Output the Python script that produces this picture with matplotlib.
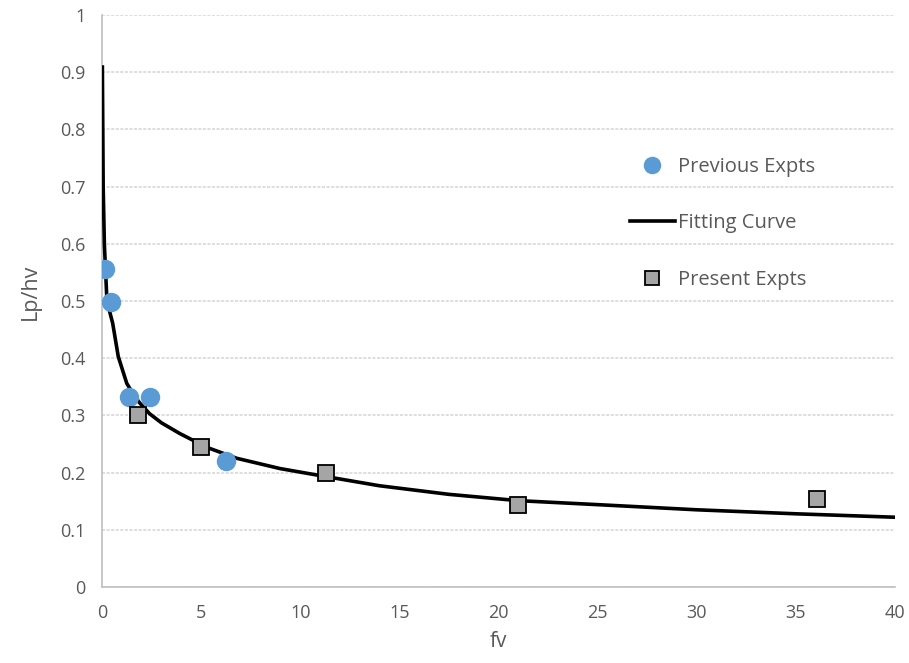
import matplotlib.pyplot as plt
from matplotlib.ticker import FuncFormatter, MultipleLocator

plt.rcParams['font.family'] = ['Open Sans', 'DejaVu Sans']

# previous experiments (blue circles)
prev_fv = [0.16, 0.46, 1.34, 2.40, 6.28]
prev_lp = [0.556, 0.499, 0.333, 0.333, 0.221]

# present experiments (grey squares)
pres_fv = [1.81, 4.97, 11.29, 21.0, 36.05]
pres_lp = [0.300, 0.245, 0.200, 0.144, 0.154]

# fitted curve
fit_fv = [0.02, 0.06, 0.12, 0.25, 0.54, 0.82, 1.25, 1.58, 1.9, 2.4, 3.0, 3.94, 5.3,
          6.8, 8.99, 11.3, 14.0, 17.5, 21.0, 25.0, 30.0, 35.0, 40.0]
fit_lp = [0.909, 0.700, 0.599, 0.500, 0.461, 0.403, 0.356, 0.337, 0.322, 0.303, 0.287, 0.268, 0.244,
          0.225, 0.207, 0.193, 0.177, 0.162, 0.151, 0.144, 0.135, 0.128, 0.122]

text_col = '#595959'

fig = plt.figure(figsize=(9.09, 6.63), dpi=100)
ax = fig.add_axes([0.1122, 0.1146, 0.8724, 0.8628])

ax.plot(prev_fv, prev_lp, 'o', color='#5b9bd5', markersize=14, markeredgewidth=0,
        label='Previous Expts', zorder=4)
ax.plot(fit_fv, fit_lp, '-', color='black', linewidth=2.6, label='Fitting Curve', zorder=3)
ax.plot(pres_fv, pres_lp, 's', color='#a5a5a5', markersize=11.5, markeredgecolor='black',
        markeredgewidth=1.3, label='Present Expts', zorder=4)

ax.set_xlim(0, 40)
ax.set_ylim(0, 1)
ax.xaxis.set_major_locator(MultipleLocator(5))
ax.yaxis.set_major_locator(MultipleLocator(0.1))
ax.yaxis.set_major_formatter(FuncFormatter(lambda v, p: '%g' % round(v, 2)))

ax.grid(axis='y', color='#d4d4d4', linewidth=1.1, linestyle=(0, (2, 1)))
ax.set_axisbelow(True)
for s in ['top', 'right']:
    ax.spines[s].set_visible(False)
for s in ['left', 'bottom']:
    ax.spines[s].set_color('#bfbfbf')
    ax.spines[s].set_linewidth(1.2)

ax.tick_params(length=0, labelsize=13, labelcolor=text_col, pad=12)
ax.set_xlabel('fv', fontsize=15, color=text_col, labelpad=7)
ax.set_ylabel('Lp/hv', fontsize=15.5, color=text_col)
ax.yaxis.set_label_coords(-0.077, 0.516)

leg = ax.legend(loc='upper left', bbox_to_anchor=(0.643, 0.783), frameon=False,
                fontsize=14.5, labelcolor=text_col, handlelength=2.23, handletextpad=0.13,
                labelspacing=1.80, markerscale=0.9)

fig.savefig('out.png', dpi=100)
